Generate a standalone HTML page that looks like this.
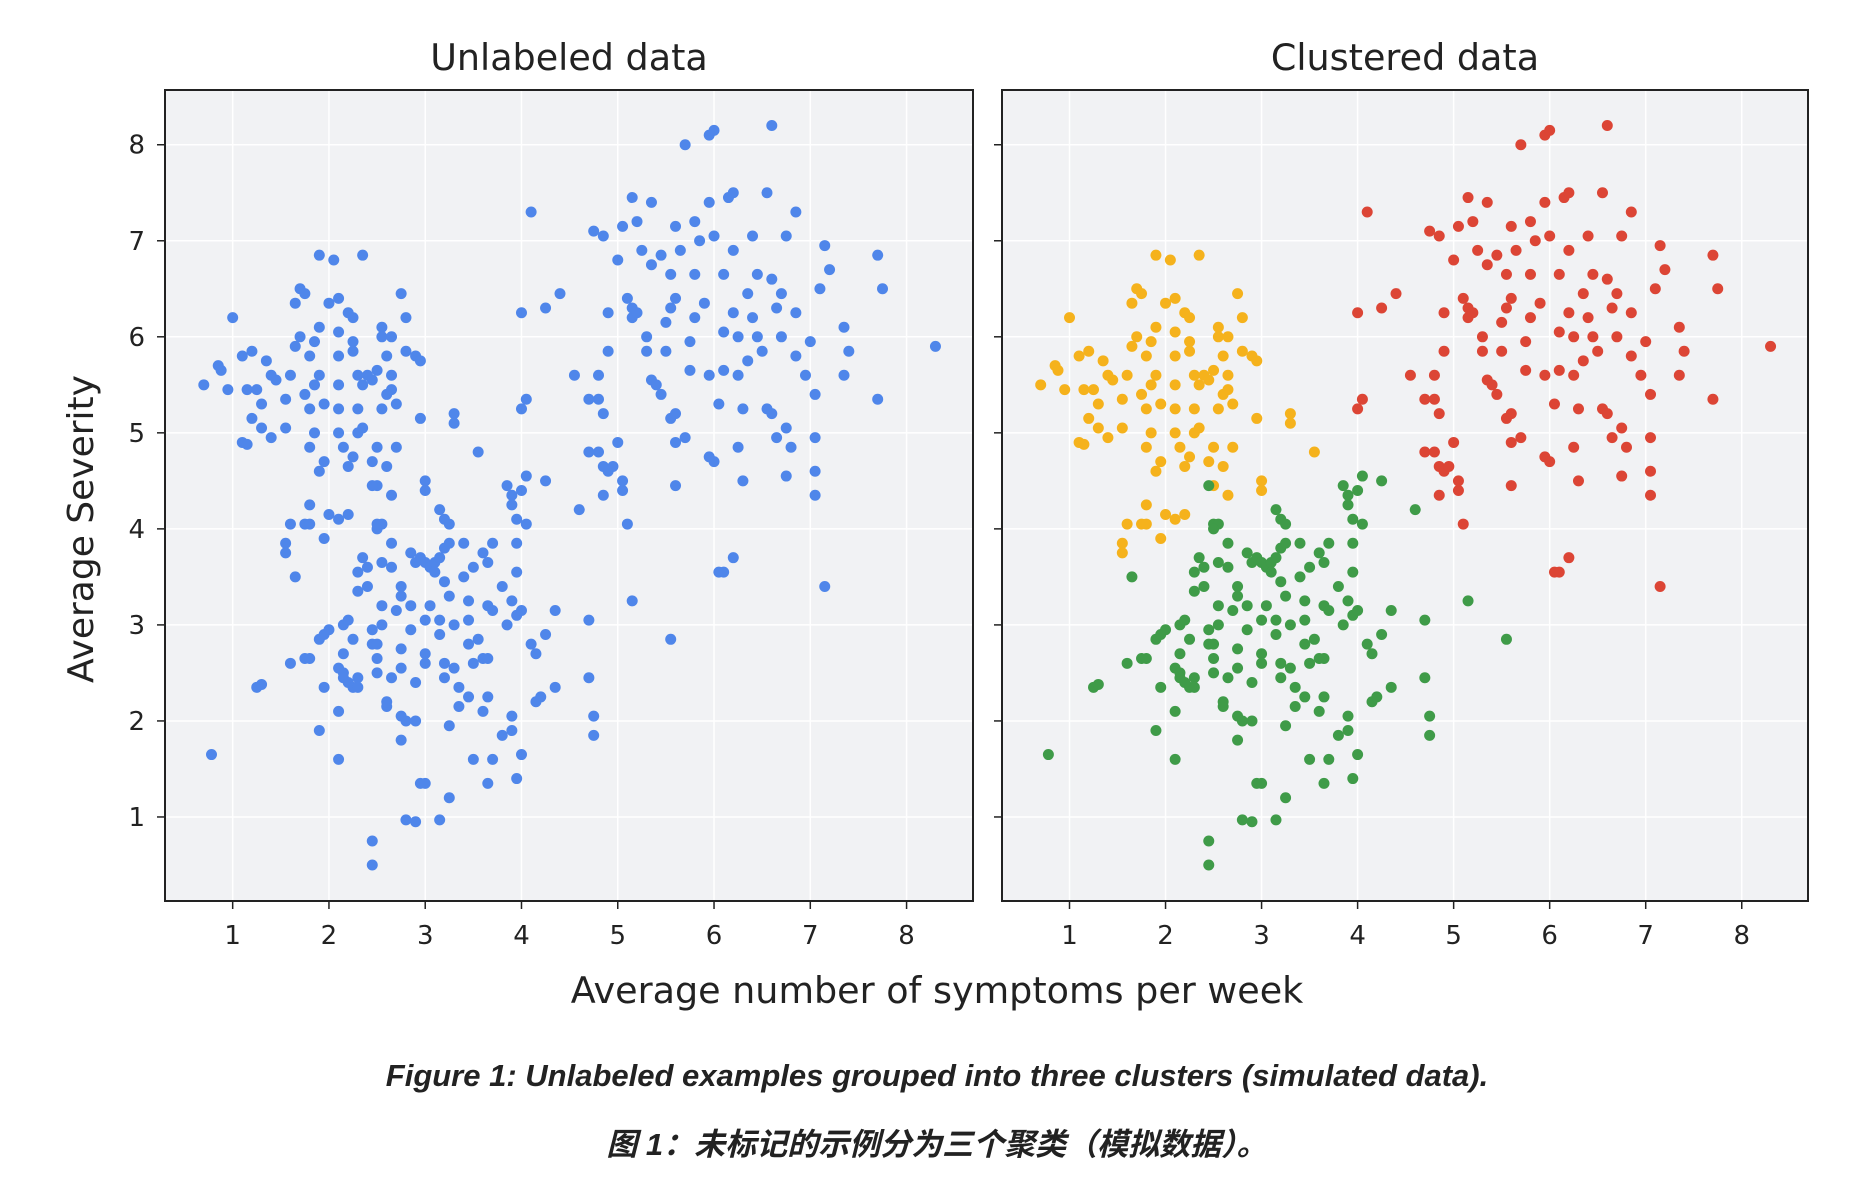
<!DOCTYPE html>
<html><head><meta charset="utf-8">
<style>
html,body{margin:0;padding:0;background:#fff;}
body{width:1852px;height:1176px;overflow:hidden;font-family:"Liberation Sans","DejaVu Sans",sans-serif;}
svg text{font-family:"DejaVu Sans","Liberation Sans",sans-serif;fill:#222;}
.cap{font-family:"Liberation Sans","Noto Sans CJK SC",sans-serif;font-style:italic;font-weight:bold;fill:#222;}
</style></head>
<body>
<svg id="chart" width="1852" height="1176" xmlns="http://www.w3.org/2000/svg">
<text class="cap" x="937" y="1086" text-anchor="middle" font-size="31">Figure 1: Unlabeled examples grouped into three clusters (simulated data).</text>
<text class="cap" x="937" y="1155" text-anchor="middle" font-size="31" style="font-family:'Liberation Sans','Noto Sans CJK SC',sans-serif">图 1：未标记的示例分为三个聚类（模拟数据）。</text>
<text x="0" y="0" font-size="36" text-anchor="middle" transform="translate(93,529) rotate(-90)">Average Severity</text>
<text x="937" y="1003" font-size="36.5" text-anchor="middle">Average number of symptoms per week</text>
</svg>
<script>
const xTicks=[1,2,3,4,5,6,7,8];
const yTicks=[1,2,3,4,5,6,7,8];
const yellowPts=[[0.7,5.5],[0.85,5.7],[0.88,5.65],[1.0,6.2],[0.95,5.45],[1.1,5.8],[1.15,5.45],[1.2,5.85],[1.25,5.45],[1.2,5.15],[1.3,5.3],[1.3,5.05],[1.35,5.75],[1.4,5.6],[1.45,5.55],[1.1,4.9],[1.15,4.88],[1.4,4.95],[1.55,5.35],[1.55,5.05],[1.6,5.6],[1.65,6.35],[1.7,6.5],[1.75,6.45],[1.65,5.9],[1.7,6.0],[1.8,5.8],[1.75,5.4],[1.8,5.25],[1.8,4.85],[1.85,5.5],[1.85,5.95],[1.9,6.1],[1.9,5.6],[1.85,5.0],[1.95,5.3],[1.9,4.6],[1.95,4.7],[1.9,6.85],[2.05,6.8],[2.0,6.35],[2.1,6.4],[2.1,6.05],[2.1,5.8],[2.1,5.5],[2.1,5.25],[2.1,5.0],[2.15,4.85],[2.2,6.25],[2.25,6.2],[2.25,5.95],[2.25,5.85],[2.3,5.25],[2.3,5.6],[2.35,6.85],[2.35,5.5],[2.4,5.6],[2.45,5.55],[2.5,5.65],[2.3,5.0],[2.35,5.05],[2.2,4.65],[2.25,4.75],[2.5,4.85],[2.45,4.7],[2.55,6.1],[2.55,6.0],[2.55,5.25],[2.6,5.8],[2.6,5.4],[2.65,5.6],[2.65,6.0],[2.65,5.45],[2.7,5.3],[2.7,4.85],[2.75,6.45],[2.8,6.2],[2.8,5.85],[2.6,4.65],[2.5,4.45],[2.65,4.35],[2.9,5.8],[2.95,5.75],[2.95,5.15],[3.3,5.2],[3.3,5.1],[1.8,4.25],[1.75,4.05],[1.8,4.05],[1.6,4.05],[1.55,3.85],[1.55,3.75],[2.0,4.15],[2.1,4.1],[2.2,4.15],[1.95,3.9],[3.55,4.8],[3.0,4.5],[3.0,4.4]];
const greenPts=[[0.78,1.65],[1.25,2.35],[1.3,2.38],[1.6,2.6],[1.65,3.5],[1.75,2.65],[1.8,2.65],[1.9,2.85],[1.95,2.9],[2.0,2.95],[1.95,2.35],[1.9,1.9],[2.1,1.6],[2.1,2.1],[2.1,2.55],[2.15,2.5],[2.15,2.45],[2.2,2.4],[2.25,2.35],[2.3,2.45],[2.3,2.35],[2.15,2.7],[2.15,3.0],[2.2,3.05],[2.25,2.85],[2.3,3.35],[2.3,3.55],[2.35,3.7],[2.4,3.4],[2.4,3.6],[2.45,2.95],[2.45,2.8],[2.5,2.8],[2.5,2.65],[2.5,2.5],[2.55,3.0],[2.55,3.2],[2.55,3.65],[2.6,2.15],[2.6,2.2],[2.65,2.45],[2.65,3.6],[2.65,3.85],[2.7,3.15],[2.75,3.4],[2.75,3.3],[2.75,2.75],[2.75,2.55],[2.75,2.05],[2.75,1.8],[2.8,2.0],[2.85,3.75],[2.85,2.95],[2.85,3.2],[2.9,2.0],[2.9,2.4],[2.9,3.65],[2.95,3.7],[3.0,3.65],[3.0,3.05],[3.0,2.7],[3.0,2.6],[3.05,3.2],[3.05,3.6],[3.1,3.55],[3.1,3.65],[3.15,3.7],[3.2,3.8],[3.2,3.45],[3.15,3.05],[3.15,2.9],[3.2,2.6],[3.2,2.45],[3.25,3.3],[3.25,3.85],[3.3,3.0],[3.3,2.55],[3.35,2.35],[3.35,2.15],[3.25,1.95],[3.4,3.85],[3.4,3.5],[3.45,3.05],[3.45,3.25],[3.45,2.8],[3.45,2.25],[3.5,3.6],[3.5,2.6],[3.55,2.85],[3.6,3.75],[3.6,2.65],[3.6,2.1],[3.65,3.2],[3.65,2.65],[3.65,2.25],[3.65,3.65],[3.7,3.85],[3.7,3.15],[3.5,1.6],[3.7,1.6],[3.65,1.35],[3.8,1.85],[3.8,3.4],[3.85,3.0],[3.9,3.25],[3.9,2.05],[3.9,1.9],[3.95,3.85],[3.95,3.55],[3.95,3.1],[3.95,4.1],[3.85,4.45],[3.9,4.35],[3.9,4.25],[4.0,4.4],[4.0,3.15],[4.05,4.05],[4.05,4.55],[4.1,2.8],[4.15,2.7],[4.15,2.2],[4.2,2.25],[4.25,2.9],[4.25,4.5],[4.35,3.15],[4.35,2.35],[4.0,1.65],[3.95,1.4],[2.95,1.35],[3.0,1.35],[3.25,1.2],[2.8,0.97],[2.9,0.95],[3.15,0.97],[2.45,0.75],[2.45,0.5],[4.7,3.05],[4.7,2.45],[4.75,2.05],[4.75,1.85],[4.6,4.2],[5.15,3.25],[5.55,2.85],[3.25,4.05],[3.15,4.2],[3.2,4.1],[2.5,4.05],[2.55,4.05],[2.5,4.0],[2.45,4.45]];
const redPts=[[4.1,7.3],[4.0,6.25],[4.25,6.3],[4.4,6.45],[4.0,5.25],[4.05,5.35],[4.55,5.6],[4.7,5.35],[4.8,5.35],[4.7,4.8],[4.8,4.8],[4.85,4.65],[4.9,4.6],[4.95,4.65],[4.85,4.35],[5.05,4.4],[5.1,4.05],[5.05,4.5],[5.0,4.9],[4.85,5.2],[4.8,5.6],[4.9,5.85],[4.75,7.1],[4.85,7.05],[4.9,6.25],[5.1,6.4],[5.15,6.2],[5.15,6.3],[5.2,6.25],[5.0,6.8],[5.05,7.15],[5.15,7.45],[5.2,7.2],[5.35,7.4],[5.25,6.9],[5.35,6.75],[5.3,6.0],[5.35,5.55],[5.4,5.5],[5.3,5.85],[5.45,5.4],[5.5,5.85],[5.5,6.15],[5.55,6.3],[5.55,6.65],[5.6,6.4],[5.6,7.15],[5.65,6.9],[5.45,6.85],[5.55,5.15],[5.6,5.2],[5.6,4.9],[5.6,4.45],[5.7,4.95],[5.75,5.65],[5.75,5.95],[5.8,6.2],[5.8,6.65],[5.8,7.2],[5.85,7.0],[5.7,8.0],[5.95,8.1],[6.0,8.15],[5.95,7.4],[6.0,7.05],[5.9,6.35],[5.95,5.6],[5.95,4.75],[6.0,4.7],[6.05,5.3],[6.1,5.65],[6.1,6.05],[6.1,6.65],[6.15,7.45],[6.2,7.5],[6.2,6.9],[6.2,6.25],[6.25,6.0],[6.25,5.6],[6.3,5.25],[6.3,4.5],[6.25,4.85],[6.35,5.75],[6.35,6.45],[6.4,7.05],[6.45,6.65],[6.4,6.2],[6.45,6.0],[6.5,5.85],[6.55,7.5],[6.55,5.25],[6.6,5.2],[6.65,4.95],[6.6,6.6],[6.65,6.3],[6.7,6.45],[6.7,6.0],[6.75,7.05],[6.75,5.05],[6.8,4.85],[6.75,4.55],[6.85,7.3],[6.85,6.25],[6.85,5.8],[6.95,5.6],[7.0,5.95],[7.05,5.4],[7.05,4.95],[7.05,4.6],[7.05,4.35],[7.1,6.5],[7.15,6.95],[7.2,6.7],[7.35,6.1],[7.4,5.85],[7.35,5.6],[7.7,6.85],[7.75,6.5],[7.7,5.35],[8.3,5.9],[6.05,3.55],[6.1,3.55],[6.2,3.7],[7.15,3.4],[6.6,8.2]];

const NS="http://www.w3.org/2000/svg";
const svg=document.getElementById('chart');
const PT=90,PB=901,XMIN=0.297,XMAX=8.69,YMIN=0.125,YMAX=8.57;
const panels=[{l:165,r:973,title:'Unlabeled data',labels:true,name:'unlabeled'},{l:1002,r:1808,title:'Clustered data',labels:false,name:'clustered'}];
function mk(tag,attrs,parent){const e=document.createElementNS(NS,tag);for(const k in attrs)e.setAttribute(k,attrs[k]);(parent||svg).appendChild(e);return e;}
panels.forEach(function(p){
  const sx=v=>p.l+(v-XMIN)/(XMAX-XMIN)*(p.r-p.l);
  const sy=v=>PB-(v-YMIN)/(YMAX-YMIN)*(PB-PT);
  const g=mk('g',{});
  
  
  const bg=mk('rect',{x:p.l,y:PT,width:p.r-p.l,height:PB-PT,fill:'#f1f2f4'},g);
  
  
  xTicks.forEach(function(t){
    const x=sx(t);
    const gl=mk('line',{x1:x,x2:x,y1:PT,y2:PB,stroke:'#fff','stroke-width':1.5},g);
    
    
    mk('line',{x1:x,x2:x,y1:PB,y2:PB+8,stroke:'#222','stroke-width':1.5},g);
    const tl=mk('text',{x:x,y:PB+43,'font-size':26,'text-anchor':'middle'},g);
    tl.textContent=t;
    
    
  });
  yTicks.forEach(function(t){
    const y=sy(t);
    const gl=mk('line',{x1:p.l,x2:p.r,y1:y,y2:y,stroke:'#fff','stroke-width':1.5},g);
    
    
    mk('line',{x1:p.l-8,x2:p.l,y1:y,y2:y,stroke:'#222','stroke-width':1.5},g);
    if(p.labels){
      const tl=mk('text',{x:p.l-20,y:y+9,'font-size':26,'text-anchor':'end'},g);
      tl.textContent=t;
      
      
    }
  });
  const sets=p.labels?[[yellowPts,'#4f86ea'],[greenPts,'#4f86ea'],[redPts,'#4f86ea']]:[[yellowPts,'#f5b21c'],[greenPts,'#3f9b48'],[redPts,'#dc4535']];
  sets.forEach(function(s){
    s[0].forEach(function(d){
      const c=mk('circle',{cx:sx(d[0]),cy:sy(d[1]),r:5.5,fill:s[1]},g);
      
      
    });
  });
  const fr=mk('rect',{x:p.l,y:PT,width:p.r-p.l,height:PB-PT,fill:'none',stroke:'#222','stroke-width':2},g);
  
  
  const tt=mk('text',{x:(p.l+p.r)/2,y:70,'font-size':36.5,'text-anchor':'middle'},g);
  tt.textContent=p.title;
  
  
});
</script>
</body></html>
